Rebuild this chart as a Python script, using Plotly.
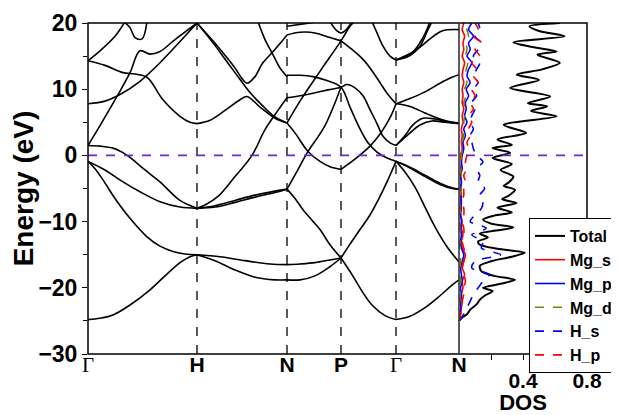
import plotly.graph_objects as go

# ---------------- data ----------------
k_nodes = [0.0, 1.09, 1.99, 2.53, 3.08, 3.71]
k_labels = ["Γ", "H", "N", "P", "Γ", "N"]

# band strokes: (k, energy eV)
band_01 = [(0, -24.8), (0.12, -24.6), (0.25, -24.1), (0.42, -22.6), (0.62, -20.3), (0.77, -18.2), (0.92, -16.2), (1.02, -15.3), (1.09, -15.0)]
band_02 = [(0, -0.9), (0.07, -2.0), (0.15, -3.7), (0.27, -6.5), (0.42, -9.5), (0.59, -12.3), (0.72, -13.7), (0.85, -14.5), (0.97, -14.9), (1.09, -15.0)]
band_03 = [(0, -0.9), (0.17, -2.2), (0.35, -4.0), (0.52, -5.5), (0.72, -7.0), (0.92, -7.8), (1.09, -8.0)]
band_04 = [(0, 1.5), (0.12, 1.4), (0.25, 1.1), (0.34, 0.5), (0.42, -0.3), (0.57, -2.2), (0.72, -4.0), (0.92, -6.8), (1.09, -8.0)]
band_05 = [(0, 14.3), (0.17, 13.6), (0.35, 12.5), (0.47, 12.3), (0.59, 11.8), (0.75, 8.4), (0.92, 5.9), (1.02, 5.0), (1.09, 4.8)]
band_06 = [(0, 1.5), (0.12, 4.5), (0.29, 8.9), (0.42, 12.5), (0.52, 15.8), (0.62, 15.3), (0.72, 15.7), (0.87, 17.5), (1.09, 20.0)]
band_07 = [(0, 7.8), (0.17, 8.2), (0.32, 9.2), (0.52, 11.2), (0.72, 14.0), (0.92, 17.2), (1.09, 20.0)]
band_08 = [(0, 14.3), (0.12, 15.8), (0.27, 18.0), (0.37, 20.2)]
band_09 = [(0.35, 20.3), (0.42, 19.3), (0.47, 17.8), (0.54, 17.6), (0.59, 20.3)]
band_10 = [(1.09, 20.0), (1.22, 17.8), (1.30, 16.4), (1.47, 13.2), (1.54, 11.6), (1.59, 10.9), (1.67, 11.9), (1.74, 13.8), (1.84, 15.5), (1.92, 16.9), (1.99, 18.2)]
band_11 = [(1.09, 20.0), (1.22, 17.6), (1.30, 16.0), (1.47, 12.5), (1.62, 9.5), (1.74, 7.6), (1.87, 5.8), (1.99, 4.9)]
band_12 = [(1.70, 20.2), (1.77, 17.5), (1.84, 15.5), (1.92, 13.2), (1.99, 11.9)]
band_13 = [(1.09, 4.8), (1.22, 5.3), (1.37, 6.8), (1.52, 8.4), (1.59, 8.9), (1.72, 7.3), (1.87, 5.6), (1.99, 4.9)]
band_14 = [(1.09, -8.0), (1.17, -7.5), (1.30, -6.2), (1.47, -3.2), (1.64, 0.0), (1.77, 3.9), (1.90, 6.8), (1.99, 8.7)]
band_15 = [(1.09, -8.0), (1.27, -7.6), (1.47, -6.8), (1.67, -6.0), (1.87, -5.4), (1.99, -5.1)]
band_16 = [(1.09, -8.0), (1.27, -7.8), (1.47, -7.1), (1.67, -6.3), (1.87, -5.6), (1.99, -5.1)]
band_17 = [(1.09, -15.0), (1.32, -15.3), (1.57, -15.9), (1.82, -16.4), (1.99, -16.5)]
band_18 = [(1.09, -15.0), (1.27, -15.9), (1.47, -17.3), (1.67, -18.4), (1.87, -18.8), (1.99, -18.8)]
band_19 = [(1.99, 18.2), (2.12, 18.6), (2.27, 18.5), (2.42, 17.8), (2.53, 17.3)]
band_20 = [(1.99, 19.5), (2.17, 19.9), (2.30, 20.2)]
band_21 = [(2.53, 17.3), (2.64, 16.0), (2.75, 14.5), (2.84, 12.8), (2.92, 11.0), (3.00, 9.2), (3.08, 7.8)]
band_22 = [(1.99, 4.9), (2.12, 8.2), (2.32, 12.7), (2.53, 17.3), (2.62, 19.5), (2.67, 20.3)]
band_23 = [(2.42, 20.2), (2.49, 18.8), (2.53, 18.5), (2.57, 18.8), (2.64, 20.2)]
band_24 = [(1.99, 12.1), (2.12, 12.1), (2.25, 11.9), (2.39, 11.3), (2.53, 10.3), (2.62, 7.3), (2.72, 4.0), (2.80, 1.9), (2.89, 0.5), (2.99, -0.4), (3.08, -0.9)]
band_25 = [(1.99, 8.7), (2.12, 9.0), (2.25, 9.4), (2.40, 9.9), (2.53, 10.3), (2.59, 10.7), (2.67, 10.2), (2.75, 9.0), (2.82, 6.9), (2.89, 4.8), (2.95, 2.9), (3.02, 1.9), (3.08, 1.5)]
band_26 = [(2.53, -2.1), (2.64, -0.9), (2.74, 0.3), (2.82, 1.4), (2.90, 2.8), (2.98, 4.6), (3.04, 6.3), (3.08, 7.8)]
band_27 = [(1.99, 4.9), (2.07, 3.4), (2.20, 0.6), (2.32, -0.9), (2.42, -1.7), (2.53, -2.1)]
band_28 = [(1.99, -5.1), (2.09, -2.4), (2.20, 0.6), (2.30, 2.8), (2.37, 4.5), (2.45, 7.2), (2.53, 10.3)]
band_29 = [(1.99, -5.1), (2.07, -6.5), (2.15, -8.2), (2.24, -9.8), (2.32, -11.2), (2.42, -13.5), (2.53, -15.5)]
band_30 = [(1.99, -16.5), (2.12, -16.4), (2.27, -16.2), (2.42, -15.8), (2.53, -15.5)]
band_31 = [(1.99, -18.8), (2.12, -18.8), (2.27, -18.2), (2.42, -16.8), (2.53, -15.5)]
band_32 = [(2.53, -15.5), (2.62, -13.4), (2.72, -11.2), (2.82, -9.0), (2.90, -6.8), (2.99, -4.0), (3.04, -2.3), (3.08, -0.9)]
band_33 = [(2.53, -15.5), (2.64, -18.0), (2.74, -20.5), (2.84, -22.6), (2.97, -24.2), (3.08, -24.8)]
band_34 = [(3.08, -24.8), (3.22, -24.3), (3.37, -23.0), (3.52, -21.2), (3.64, -19.6), (3.71, -18.8)]
band_35 = [(3.08, -0.9), (3.17, -2.5), (3.27, -4.8), (3.37, -7.8), (3.47, -10.8), (3.59, -13.8), (3.71, -16.1)]
band_36 = [(3.08, -0.9), (3.22, -1.8), (3.37, -3.0), (3.52, -4.2), (3.64, -4.9), (3.71, -5.1)]
band_37 = [(3.08, -0.9), (3.22, -1.9), (3.37, -3.2), (3.52, -4.4), (3.64, -5.0), (3.71, -5.1)]
band_38 = [(3.08, 1.5), (3.17, 3.0), (3.25, 4.6), (3.35, 5.6), (3.47, 5.5), (3.59, 5.1), (3.71, 4.9)]
band_39 = [(3.08, 1.5), (3.19, 3.0), (3.32, 4.6), (3.44, 5.2), (3.57, 5.0), (3.71, 4.8)]
band_40 = [(3.08, 7.8), (3.22, 8.6), (3.37, 9.6), (3.52, 10.9), (3.64, 11.8), (3.71, 12.2)]
band_41 = [(3.08, 7.8), (3.22, 7.4), (3.37, 6.4), (3.52, 5.5), (3.64, 5.0), (3.71, 4.9)]
band_42 = [(2.84, 20.2), (2.89, 18.5), (2.95, 16.5), (3.02, 15.0), (3.08, 14.4)]
band_43 = [(3.08, 14.4), (3.22, 15.1), (3.32, 16.5), (3.40, 19.0), (3.44, 20.2)]
band_44 = [(3.08, 14.4), (3.24, 15.5), (3.35, 17.8), (3.42, 20.2)]
band_45 = [(3.08, 14.4), (3.27, 15.8), (3.42, 17.6), (3.54, 18.8), (3.71, 19.0)]

# total DOS
total_e = [-25.0, -24.5, -24.0, -23.3, -22.5, -21.8, -21.2, -20.5, -20.0, -19.4, -18.8, -18.2, -17.5, -16.7, -16.0,
           -15.3, -14.7, -14.1, -13.5, -13.0, -12.4, -11.8, -10.9, -10.3, -9.7, -9.1, -8.6, -7.9, -7.2, -6.6, -6.1,
           -5.2, -4.6, -4.1, -3.2, -2.2, -1.3, -0.4, 0.4, 1.1, 1.6, 2.4, 3.4, 4.6, 5.9, 6.7, 7.4, 7.9, 8.9, 10.2,
           11.4, 12.2, 13.0, 14.0, 15.2, 15.7, 16.4, 17.1, 18.0, 18.8, 19.5, 20.0]
total_dos = [0.0, 0.02, 0.05, 0.07, 0.11, 0.13, 0.16, 0.21, 0.15, 0.26, 0.35, 0.22, 0.14, 0.13, 0.20,
             0.33, 0.41, 0.24, 0.13, 0.12, 0.18, 0.13, 0.34, 0.20, 0.15, 0.22, 0.33, 0.24, 0.36, 0.27, 0.31,
             0.35, 0.28, 0.31, 0.34, 0.26, 0.33, 0.21, 0.32, 0.21, 0.33, 0.24, 0.42, 0.28, 0.61, 0.45, 0.55, 0.43, 0.57, 0.32,
             0.50, 0.36, 0.52, 0.63, 0.49, 0.61, 0.45, 0.34, 0.66, 0.50, 0.44, 0.63]

# projected DOS on a 1 eV grid
pdos_e = [-25, -24, -23, -22, -21, -20, -19, -18, -17, -16, -15, -14, -13, -12, -11, -10, -9, -8, -7, -6, -5, -4, -3,
          -2, -1, 0, 1, 2, 3, 4, 5, 6, 7, 8, 9, 10, 11, 12, 13, 14, 15, 16, 17, 18, 19, 20]
mg_s = [0.00, 0.01, 0.015, 0.02, 0.015, 0.025, 0.02, 0.035, 0.02, 0.03, 0.04, 0.02, 0.015, 0.025, 0.015, 0.02, 0.01,
        0.015, 0.01, 0.015, 0.01, 0.015, 0.01, 0.01, 0.015, 0.01, 0.02, 0.015, 0.02, 0.015, 0.025, 0.02, 0.03, 0.02,
        0.025, 0.02, 0.03, 0.02, 0.025, 0.035, 0.02, 0.03, 0.025, 0.035, 0.02, 0.03]
mg_p = [0.00, 0.005, 0.01, 0.01, 0.015, 0.01, 0.02, 0.015, 0.01, 0.02, 0.03, 0.015, 0.01, 0.015, 0.01, 0.015, 0.01,
        0.01, 0.015, 0.01, 0.01, 0.015, 0.01, 0.02, 0.015, 0.02, 0.03, 0.025, 0.04, 0.03, 0.05, 0.035, 0.045, 0.04,
        0.06, 0.045, 0.07, 0.05, 0.06, 0.08, 0.05, 0.07, 0.06, 0.09, 0.06, 0.08]
mg_d = [0.0, 0.0, 0.0, 0.005, 0.005, 0.005, 0.01, 0.005, 0.005, 0.01, 0.01, 0.005, 0.005, 0.01, 0.005, 0.005, 0.01,
        0.005, 0.01, 0.01, 0.015, 0.01, 0.015, 0.01, 0.02, 0.015, 0.02, 0.02, 0.03, 0.025, 0.03, 0.035, 0.04, 0.03,
        0.045, 0.035, 0.05, 0.04, 0.045, 0.055, 0.04, 0.05, 0.045, 0.06, 0.05, 0.055]
h_s = [0.0, 0.03, 0.05, 0.07, 0.09, 0.12, 0.15, 0.19, 0.08, 0.10, 0.26, 0.14, 0.15, 0.08, 0.17, 0.07, 0.10, 0.14,
       0.15, 0.13, 0.16, 0.12, 0.13, 0.11, 0.15, 0.11, 0.09, 0.08, 0.07, 0.09, 0.07, 0.08, 0.10, 0.08, 0.11, 0.09,
       0.12, 0.09, 0.11, 0.13, 0.09, 0.12, 0.14, 0.10, 0.13, 0.12]
h_p = [0.0, 0.01, 0.02, 0.02, 0.03, 0.03, 0.04, 0.03, 0.02, 0.03, 0.04, 0.03, 0.02, 0.03, 0.03, 0.02, 0.03, 0.03,
       0.02, 0.03, 0.03, 0.04, 0.03, 0.05, 0.04, 0.05, 0.06, 0.05, 0.07, 0.06, 0.08, 0.06, 0.09, 0.07, 0.10, 0.08,
       0.12, 0.09, 0.11, 0.08, 0.13, 0.10, 0.14, 0.09, 0.12, 0.10]

bands = [band_01, band_02, band_03, band_04, band_05, band_06, band_07, band_08, band_09, band_10,
         band_11, band_12, band_13, band_14, band_15, band_16, band_17, band_18, band_19, band_20,
         band_21, band_22, band_23, band_24, band_25, band_26, band_27, band_28, band_29, band_30,
         band_31, band_32, band_33, band_34, band_35, band_36, band_37, band_38, band_39, band_40,
         band_41, band_42, band_43, band_44, band_45]

# ---------------- figure ----------------
FONT = "Liberation Sans"
fig = go.Figure()

for b in bands:
    fig.add_trace(go.Scatter(
        x=[p[0] for p in b], y=[p[1] for p in b], mode="lines",
        line=dict(color="black", width=1.6, shape="spline", smoothing=1.0),
        showlegend=False, hoverinfo="skip", xaxis="x", yaxis="y"))

pdos_series = [
    ("Total", total_e, total_dos, "black", "solid", 2.0),
    ("Mg_s", pdos_e, mg_s, "#ff0000", "solid", 1.6),
    ("Mg_p", pdos_e, mg_p, "#0000ff", "solid", 1.6),
    ("Mg_d", pdos_e, mg_d, "#808000", "dash", 1.6),
    ("H_s", pdos_e, h_s, "#0000ff", "dash", 1.6),
    ("H_p", pdos_e, h_p, "#ff0000", "dash", 1.6),
]
for name, e, d, col, dash, w in pdos_series:
    fig.add_trace(go.Scatter(
        x=d, y=e, mode="lines", name=name,
        line=dict(color=col, width=w, dash=dash, shape="spline", smoothing=0.8),
        xaxis="x2", yaxis="y"))

split = (459 - 88) / (587 - 88)
kmax = k_nodes[-1]

shapes = []
for kv in k_nodes[1:-1]:
    shapes.append(dict(type="line", xref="x", yref="paper", x0=kv, x1=kv, y0=0, y1=1,
                       line=dict(color="black", width=1.3, dash="dash"), layer="below"))
shapes.append(dict(type="line", xref="paper", yref="y", x0=0, x1=1, y0=0, y1=0,
                   line=dict(color="#7028c8", width=1.6, dash="dash")))
shapes.append(dict(type="rect", xref="paper", yref="paper", x0=0, x1=1, y0=0, y1=1,
                   line=dict(color="black", width=1.5)))
shapes.append(dict(type="line", xref="paper", yref="paper", x0=split, x1=split, y0=0, y1=1,
                   line=dict(color="#333333", width=1.6)))

ticktext = []
for lab in k_labels:
    if lab == "Γ":
        ticktext.append('<span style="font-family:Liberation Serif;font-weight:normal">Γ</span>')
    else:
        ticktext.append(lab)

# the page body adds an 8 px offset; figure is sized so the plot lands at the reference place
fig.update_layout(
    width=611, height=407,
    margin=dict(l=80, r=32, t=15, b=61, autoexpand=False),
    paper_bgcolor="white", plot_bgcolor="white",
    font=dict(family=FONT, color="black"),
    shapes=shapes,
    xaxis=dict(domain=[0, split], range=[0, kmax], tickvals=k_nodes, ticktext=ticktext,
               ticks="", showgrid=False, zeroline=False, showline=False, ticklabelstandoff=-4,
               tickfont=dict(family=FONT, size=21, weight="bold", color="black")),
    xaxis2=dict(domain=[split, 1], range=[0, 0.8], anchor="y",
                tickvals=[0.2, 0.4, 0.6, 0.8], ticktext=["", "0.4", "", "0.8"],
                ticks="outside", ticklen=5, tickcolor="black", showgrid=False, zeroline=False,
                showline=False, ticklabelstandoff=3,
                tickfont=dict(family=FONT, size=21, weight="bold", color="black"),
                title=dict(text="DOS", standoff=2,
                           font=dict(family=FONT, size=22, weight="bold", color="black"))),
    yaxis=dict(range=[-30, 20], tickvals=[-30, -20, -10, 0, 10, 20], ticks="outside", ticklen=5,
               tickcolor="black", showgrid=False, zeroline=False, showline=False,
               minor=dict(tickvals=[-25, -15, -5, 5, 15], ticks="outside", ticklen=4, tickcolor="black"),
               tickfont=dict(family=FONT, size=23, weight="bold", color="black"),
               title=dict(text="Energy (eV)", standoff=8,
                          font=dict(family=FONT, size=28, weight="bold", color="black"))),
    legend=dict(x=(529 - 88) / (587 - 88), y=1 - (218 - 23) / (354 - 23), xanchor="left", yanchor="top",
                bgcolor="white", bordercolor="black", borderwidth=1, tracegroupgap=0,
                font=dict(family=FONT, size=16, weight="bold", color="black"), itemwidth=30),
)

fig.write_html("out.html")
